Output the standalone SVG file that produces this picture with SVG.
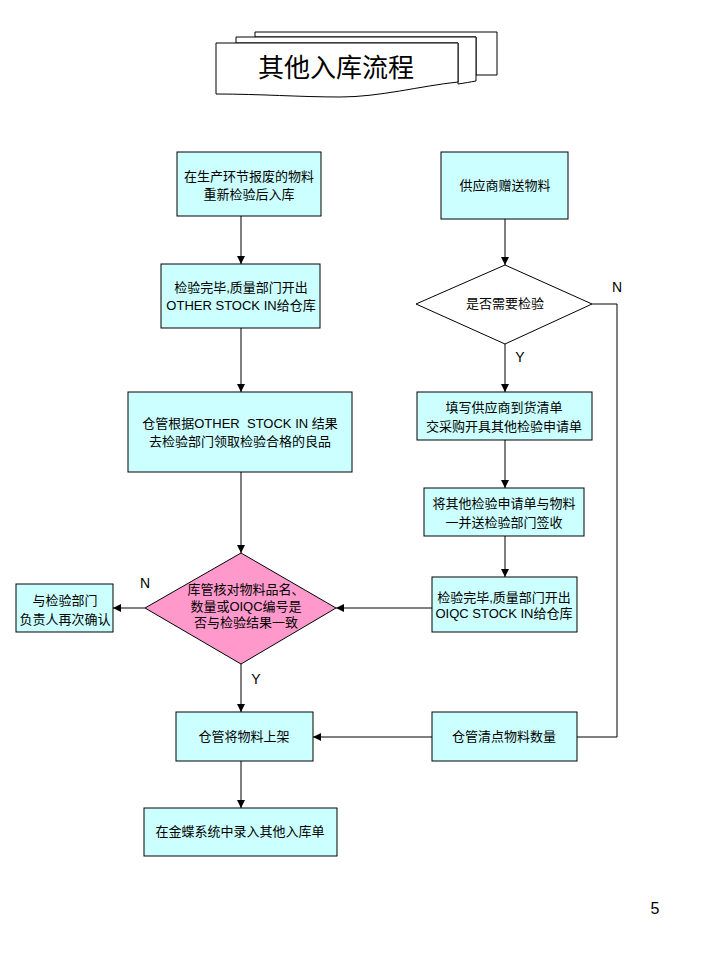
<svg xmlns="http://www.w3.org/2000/svg" width="720" height="960" viewBox="0 0 720 960">
<style>
.box{fill:#CCFFFF;stroke:#000;stroke-width:1}
.dia{fill:#FFFFFF;stroke:#000;stroke-width:1}
.pink{fill:#FF99CC;stroke:#000;stroke-width:1}
.t{font-family:"Liberation Sans","Noto Sans CJK SC",sans-serif;font-size:13px;fill:#000;text-anchor:middle;white-space:pre}
.lbl{font-family:"Liberation Sans","Noto Sans CJK SC",sans-serif;font-size:14px;fill:#000;text-anchor:middle}
.ln{fill:none;stroke:#000;stroke-width:1}
.doc{fill:#fff;stroke:#000;stroke-width:1}
</style>
<defs>
<marker id="ah" viewBox="0 0 10 10" refX="10" refY="5" markerWidth="8" markerHeight="8" markerUnits="userSpaceOnUse" orient="auto">
<path d="M0,0 L10,5 L0,10 z" fill="#000"/>
</marker>
</defs>
<rect width="720" height="960" fill="#fff"/>

<g id="title">
<path class="doc" d="M255,32 H497 V75 H476 V37 H255 z"/>
<path class="doc" d="M236,37 H476 V81 C470,82 465,83 458,84 V43 H236 z"/>
<path class="doc" d="M216,43 H458 V82 C420,86 380,97 340,97 C300,97 260,94 216,94 z"/>
<text x="336" y="77" style="font-family:'Liberation Sans','Noto Sans CJK SC',sans-serif;font-size:26px;text-anchor:middle">其他入库流程</text>
</g>

<g id="n1"><rect class="box" x="177" y="152" width="144" height="64"/>
<text class="t" x="249" y="181">在生产环节报废的物料</text><text class="t" x="249" y="199">重新检验后入库</text></g>

<g id="n2"><rect class="box" x="161" y="264" width="159" height="64"/>
<text class="t" x="241" y="292">检验完毕,质量部门开出</text><text class="t" x="241" y="310">OTHER STOCK IN给仓库</text></g>

<g id="n3"><rect class="box" x="128" y="392" width="224" height="80"/>
<text class="t" x="240" y="428">仓管根据OTHER  STOCK IN 结果</text><text class="t" x="240" y="446">去检验部门领取检验合格的良品</text></g>

<g id="d2"><path class="pink" d="M241,553 L336,608 L241,664 L145,608 z"/>
<text class="t" x="246" y="594">库管核对物料品名、</text><text class="t" x="246" y="611">数量或OIQC编号是</text><text class="t" x="246" y="627">否与检验结果一致</text></g>

<g id="n4"><rect class="box" x="16" y="584" width="97" height="48"/>
<text class="t" x="65" y="605">与检验部门</text><text class="t" x="65" y="624">负责人再次确认</text></g>

<g id="r1"><rect class="box" x="441" y="152" width="127" height="67"/>
<text class="t" x="505" y="190">供应商赠送物料</text></g>

<g id="d1"><path class="dia" d="M505,265 L592,304 L505,344 L416,304 z"/>
<text class="t" x="505" y="308">是否需要检验</text></g>

<g id="r2"><rect class="box" x="417" y="392" width="175" height="48"/>
<text class="t" x="504" y="412">填写供应商到货清单</text><text class="t" x="504" y="431">交采购开具其他检验申请单</text></g>

<g id="r3"><rect class="box" x="424" y="488" width="160" height="48"/>
<text class="t" x="504" y="508">将其他检验申请单与物料</text><text class="t" x="504" y="527">一并送检验部门签收</text></g>

<g id="r4"><rect class="box" x="432" y="577" width="145" height="55"/>
<text class="t" x="504" y="602">检验完毕,质量部门开出</text><text class="t" x="504" y="618">OIQC STOCK IN给仓库</text></g>

<g id="n5"><rect class="box" x="176" y="712" width="137" height="49"/>
<text class="t" x="244" y="741">仓管将物料上架</text></g>

<g id="r5"><rect class="box" x="432" y="712" width="145" height="49"/>
<text class="t" x="504" y="741">仓管清点物料数量</text></g>

<g id="n6"><rect class="box" x="144" y="808" width="193" height="48"/>
<text class="t" x="240" y="836">在金蝶系统中录入其他入库单</text></g>

<g id="connectors">
<line class="ln" x1="241" y1="216" x2="241" y2="264" marker-end="url(#ah)"/>
<line class="ln" x1="241" y1="328" x2="241" y2="392" marker-end="url(#ah)"/>
<line class="ln" x1="241" y1="472" x2="241" y2="553" marker-end="url(#ah)"/>
<line class="ln" x1="145" y1="608" x2="113" y2="608" marker-end="url(#ah)"/>
<line class="ln" x1="241" y1="664" x2="241" y2="712" marker-end="url(#ah)"/>
<line class="ln" x1="241" y1="761" x2="241" y2="808" marker-end="url(#ah)"/>
<line class="ln" x1="505" y1="219" x2="505" y2="265" marker-end="url(#ah)"/>
<line class="ln" x1="505" y1="344" x2="505" y2="392" marker-end="url(#ah)"/>
<line class="ln" x1="505" y1="440" x2="505" y2="488" marker-end="url(#ah)"/>
<line class="ln" x1="505" y1="536" x2="505" y2="577" marker-end="url(#ah)"/>
<line class="ln" x1="432" y1="608" x2="336" y2="608" marker-end="url(#ah)"/>
<polyline class="ln" points="592,304 617,304 617,737 577,737"/>
<line class="ln" x1="432" y1="737" x2="313" y2="737" marker-end="url(#ah)"/>
<text class="lbl" x="145" y="588">N</text>
<text class="lbl" x="256" y="684">Y</text>
<text class="lbl" x="617" y="292">N</text>
<text class="lbl" x="520" y="362">Y</text>
</g>
<text x="655" y="914" style="font-family:'Liberation Sans',sans-serif;font-size:16px;text-anchor:middle">5</text>
</svg>
